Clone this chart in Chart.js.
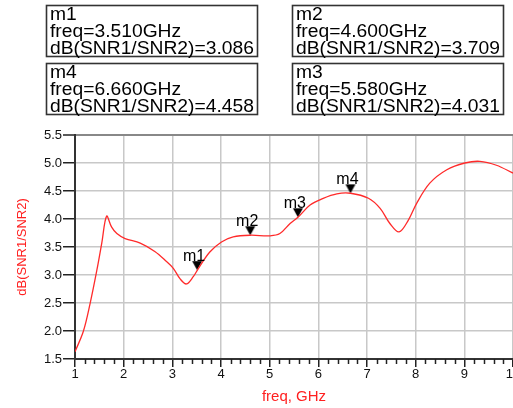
<!DOCTYPE html>
<html>
<head>
<meta charset="utf-8">
<script src="https://cdn.jsdelivr.net/npm/chart.js@4"></script>
<style>
body{margin:0;background:#fff;}
canvas{display:block;}
</style>
</head>
<body>
<canvas id="snrChart" width="513" height="408"></canvas>
<script>
// curve
const freq=[1.00,1.17,1.31,1.45,1.55,1.65,1.75,1.86,2.03,2.34,2.64,2.88,3.02,3.16,3.29,3.43,3.53,3.77,4.01,4.25,4.60,5.01,5.21,5.42,5.58,5.83,6.10,6.38,6.66,7.03,7.27,7.47,7.66,7.85,8.02,8.29,8.64,9.01,9.32,9.66,10.0];
const snrDb=[1.63,1.99,2.49,3.09,3.57,4.05,3.86,3.74,3.65,3.57,3.42,3.24,3.12,2.93,2.84,2.97,3.11,3.41,3.59,3.68,3.71,3.70,3.74,3.92,4.03,4.25,4.37,4.45,4.46,4.37,4.19,3.92,3.77,3.98,4.28,4.64,4.88,5.00,5.03,4.96,4.82];

// markers
const markerNames=["m1","m2","m3","m4"];
const markerFreq=[3.51,4.60,5.58,6.66];
const markerVal=[3.086,3.709,4.031,4.458];

const yTicks=[1.5,2.0,2.5,3.0,3.5,4.0,4.5,5.0,5.5];

const font="Liberation Sans, Arial, sans-serif";

// down triangle, tip at the image centre
const tri=document.createElement("canvas");
tri.width=12;tri.height=20;
const tc=tri.getContext("2d");
tc.fillStyle="#000";
tc.beginPath();
tc.moveTo(1,1);tc.lineTo(11,1);tc.lineTo(6,10);tc.closePath();
tc.fill();

const readouts={
id:"readouts",
afterDatasetsDraw(chart){
const c=chart.ctx;
const xs=chart.scales.x;
const ys=chart.scales.y;

// minor ticks on freq axis
c.save();
c.strokeStyle="#222";
c.lineWidth=1.5;
for(let i=1;i<=9;i++){
for(let k=1;k<5;k++){
const px=Math.round(xs.getPixelForValue(i+k*0.2))+0.5;
c.beginPath();
c.moveTo(px,ys.bottom);
c.lineTo(px,ys.bottom+5);
c.stroke();
}
}

// marker names above the triangles
const meta=chart.getDatasetMeta(1);
c.fillStyle="#000";
c.font="16px "+font;
c.textAlign="center";
c.textBaseline="alphabetic";
meta.data.forEach((p,i)=>{
c.fillText(markerNames[i],p.x-3,p.y-9);
});

// readout boxes
const spots={m1:[46,5],m2:[292,5],m4:[46,63],m3:[292,63]};
markerNames.forEach((n,i)=>{
const [bx,by]=spots[n];
c.strokeStyle="#333";
c.lineWidth=1.6;
c.strokeRect(bx+0.5,by+0.5,211,51);
c.save();
c.translate(bx+4,by);
c.scale(1.07,1);
c.font="18px "+font;
c.textAlign="left";
c.fillStyle="#000";
c.fillText(n,0,14.5);
c.fillText("freq="+markerFreq[i].toFixed(3)+"GHz",0,32);
c.fillText("dB(SNR1/SNR2)="+markerVal[i].toFixed(3),0,49);
c.restore();
});
c.restore();
}
};

new Chart(document.getElementById("snrChart"),{
type:"line",
data:{
datasets:[{
data:freq.map((f,i)=>({x:f,y:snrDb[i]})),
borderColor:"#ff2a2a",
borderWidth:1.3,
pointRadius:0,
tension:0.35,
fill:false
},{
data:markerFreq.map((f,i)=>({x:f,y:markerVal[i]})),
showLine:false,
pointStyle:tri,
pointRadius:6
}]
},
options:{
responsive:false,
animation:false,
devicePixelRatio:1,
layout:{autoPadding:false,padding:{top:135,left:0,right:0,bottom:0}},
plugins:{legend:{display:false},tooltip:{enabled:false}},
scales:{
x:{
type:"linear",
min:1,max:10,
afterFit:s=>{s.height=49;s.paddingLeft=0;s.paddingRight=0;},
ticks:{stepSize:1,padding:0,color:"#111",font:{family:font,size:13},maxRotation:0,autoSkip:false},
grid:{color:"#c8c8c8",lineWidth:1.5,tickLength:8,tickColor:"#222",tickWidth:1.5},
border:{color:"#333",width:2},
title:{display:true,text:"freq, GHz",color:"#ff2020",font:{family:font,size:15},padding:{top:0,bottom:2}}
},
y:{
min:1.5,max:5.5,
afterFit:s=>{s.width=75;s.paddingTop=0;s.paddingBottom=0;},
afterBuildTicks:s=>{s.ticks=yTicks.map(v=>({value:v}));},
ticks:{padding:1,color:"#111",font:{family:font,size:13},callback:v=>v.toFixed(1)},
grid:{
color:c=>c.tick&&c.tick.value===5.5?"#888":"#c8c8c8",
lineWidth:c=>c.tick&&c.tick.value===5.5?2:1.5,
tickLength:12,tickColor:"#222",tickWidth:1.5
},
border:{color:"#333",width:2},
title:{display:true,text:"dB(SNR1/SNR2)",color:"#ff2020",font:{family:font,size:13},padding:{top:15,bottom:0}}
}
}
},
plugins:[readouts]
});
</script>
</body>
</html>
